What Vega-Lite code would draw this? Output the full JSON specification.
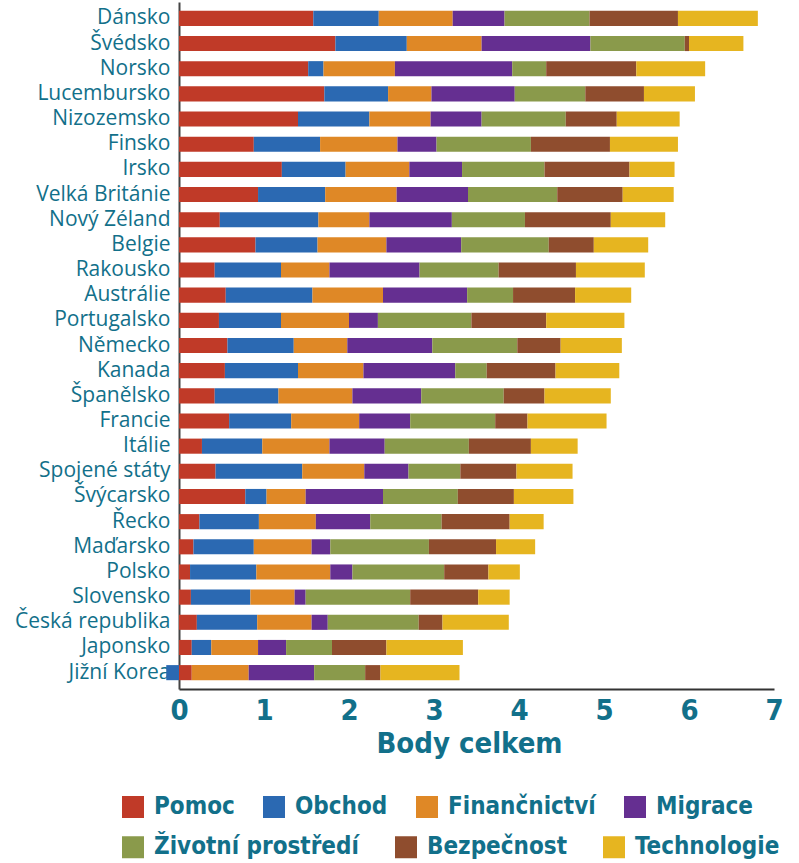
{
  "$schema": "https://vega.github.io/schema/vega-lite/v6.json",
  "autosize": {"type": "none"},
  "padding": {"left": 179, "top": 2, "right": 25, "bottom": 174},
  "width": 595,
  "height": 687,
  "background": "white",
  "data": {
    "values": [
      {"zeme": "Dánsko", "Pomoc": 1.58, "Obchod": 0.77, "Finančnictví": 0.87, "Migrace": 0.61, "Životní prostředí": 1.00, "Bezpečnost": 1.04, "Technologie": 0.94},
      {"zeme": "Švédsko", "Pomoc": 1.84, "Obchod": 0.84, "Finančnictví": 0.88, "Migrace": 1.28, "Životní prostředí": 1.11, "Bezpečnost": 0.05, "Technologie": 0.64},
      {"zeme": "Norsko", "Pomoc": 1.52, "Obchod": 0.18, "Finančnictví": 0.84, "Migrace": 1.38, "Životní prostředí": 0.40, "Bezpečnost": 1.06, "Technologie": 0.81},
      {"zeme": "Lucembursko", "Pomoc": 1.71, "Obchod": 0.75, "Finančnictví": 0.51, "Migrace": 0.98, "Životní prostředí": 0.83, "Bezpečnost": 0.69, "Technologie": 0.60},
      {"zeme": "Nizozemsko", "Pomoc": 1.40, "Obchod": 0.84, "Finančnictví": 0.72, "Migrace": 0.60, "Životní prostředí": 0.99, "Bezpečnost": 0.60, "Technologie": 0.74},
      {"zeme": "Finsko", "Pomoc": 0.88, "Obchod": 0.78, "Finančnictví": 0.91, "Migrace": 0.46, "Životní prostředí": 1.11, "Bezpečnost": 0.93, "Technologie": 0.80},
      {"zeme": "Irsko", "Pomoc": 1.21, "Obchod": 0.75, "Finančnictví": 0.75, "Migrace": 0.62, "Životní prostředí": 0.97, "Bezpečnost": 1.00, "Technologie": 0.53},
      {"zeme": "Velká Británie", "Pomoc": 0.93, "Obchod": 0.79, "Finančnictví": 0.84, "Migrace": 0.84, "Životní prostředí": 1.05, "Bezpečnost": 0.77, "Technologie": 0.60},
      {"zeme": "Nový Zéland", "Pomoc": 0.48, "Obchod": 1.16, "Finančnictví": 0.60, "Migrace": 0.97, "Životní prostředí": 0.86, "Bezpečnost": 1.01, "Technologie": 0.64},
      {"zeme": "Belgie", "Pomoc": 0.90, "Obchod": 0.73, "Finančnictví": 0.81, "Migrace": 0.88, "Životní prostředí": 1.03, "Bezpečnost": 0.53, "Technologie": 0.64},
      {"zeme": "Rakousko", "Pomoc": 0.42, "Obchod": 0.78, "Finančnictví": 0.57, "Migrace": 1.06, "Životní prostředí": 0.93, "Bezpečnost": 0.91, "Technologie": 0.81},
      {"zeme": "Austrálie", "Pomoc": 0.55, "Obchod": 1.02, "Finančnictví": 0.83, "Migrace": 0.99, "Životní prostředí": 0.54, "Bezpečnost": 0.73, "Technologie": 0.66},
      {"zeme": "Portugalsko", "Pomoc": 0.47, "Obchod": 0.73, "Finančnictví": 0.80, "Migrace": 0.34, "Životní prostředí": 1.10, "Bezpečnost": 0.88, "Technologie": 0.92},
      {"zeme": "Německo", "Pomoc": 0.57, "Obchod": 0.78, "Finančnictví": 0.63, "Migrace": 1.00, "Životní prostředí": 1.00, "Bezpečnost": 0.51, "Technologie": 0.72},
      {"zeme": "Kanada", "Pomoc": 0.54, "Obchod": 0.86, "Finančnictví": 0.77, "Migrace": 1.08, "Životní prostředí": 0.37, "Bezpečnost": 0.81, "Technologie": 0.75},
      {"zeme": "Španělsko", "Pomoc": 0.42, "Obchod": 0.75, "Finančnictví": 0.87, "Migrace": 0.81, "Životní prostředí": 0.97, "Bezpečnost": 0.48, "Technologie": 0.78},
      {"zeme": "Francie", "Pomoc": 0.59, "Obchod": 0.73, "Finančnictví": 0.80, "Migrace": 0.60, "Životní prostředí": 1.00, "Bezpečnost": 0.38, "Technologie": 0.93},
      {"zeme": "Itálie", "Pomoc": 0.27, "Obchod": 0.71, "Finančnictví": 0.79, "Migrace": 0.65, "Životní prostředí": 0.99, "Bezpečnost": 0.73, "Technologie": 0.55},
      {"zeme": "Spojené státy", "Pomoc": 0.43, "Obchod": 1.02, "Finančnictví": 0.73, "Migrace": 0.52, "Životní prostředí": 0.61, "Bezpečnost": 0.66, "Technologie": 0.66},
      {"zeme": "Švýcarsko", "Pomoc": 0.78, "Obchod": 0.25, "Finančnictví": 0.46, "Migrace": 0.91, "Životní prostředí": 0.88, "Bezpečnost": 0.66, "Technologie": 0.70},
      {"zeme": "Řecko", "Pomoc": 0.24, "Obchod": 0.70, "Finančnictví": 0.67, "Migrace": 0.64, "Životní prostředí": 0.84, "Bezpečnost": 0.80, "Technologie": 0.40},
      {"zeme": "Maďarsko", "Pomoc": 0.17, "Obchod": 0.71, "Finančnictví": 0.68, "Migrace": 0.22, "Životní prostředí": 1.16, "Bezpečnost": 0.79, "Technologie": 0.46},
      {"zeme": "Polsko", "Pomoc": 0.13, "Obchod": 0.78, "Finančnictví": 0.87, "Migrace": 0.26, "Životní prostředí": 1.08, "Bezpečnost": 0.52, "Technologie": 0.37},
      {"zeme": "Slovensko", "Pomoc": 0.14, "Obchod": 0.70, "Finančnictví": 0.52, "Migrace": 0.13, "Životní prostředí": 1.23, "Bezpečnost": 0.80, "Technologie": 0.37},
      {"zeme": "Česká republika", "Pomoc": 0.21, "Obchod": 0.71, "Finančnictví": 0.64, "Migrace": 0.19, "Životní prostředí": 1.07, "Bezpečnost": 0.28, "Technologie": 0.78},
      {"zeme": "Japonsko", "Pomoc": 0.15, "Obchod": 0.23, "Finančnictví": 0.55, "Migrace": 0.33, "Životní prostředí": 0.54, "Bezpečnost": 0.64, "Technologie": 0.90},
      {"zeme": "Jižní Korea", "Pomoc": 0.15, "Obchod": -0.15, "Finančnictví": 0.67, "Migrace": 0.77, "Životní prostředí": 0.60, "Bezpečnost": 0.18, "Technologie": 0.93}
    ]
  },
  "transform": [
    {"fold": ["Pomoc", "Obchod", "Finančnictví", "Migrace", "Životní prostředí", "Bezpečnost", "Technologie"], "as": ["slozka", "body"]},
    {"calculate": "indexof(['Pomoc','Obchod','Finančnictví','Migrace','Životní prostředí','Bezpečnost','Technologie'], datum.slozka)", "as": "poradi"}
  ],
  "mark": {"type": "bar", "clip": false, "strokeWidth": 0},
  "encoding": {
    "y": {
      "field": "zeme",
      "type": "nominal",
      "sort": null,
      "scale": {"paddingInner": 0.4, "paddingOuter": 0.35},
      "axis": {
        "title": null,
        "ticks": false,
        "domainColor": "#444444",
        "domainWidth": 2,
        "labelFont": "Open Sans",
        "labelFontSize": 21,
        "labelColor": "#12708a",
        "labelPadding": 9
      }
    },
    "x": {
      "field": "body",
      "type": "quantitative",
      "stack": "zero",
      "scale": {"domain": [0, 7], "nice": false, "zero": false},
      "axis": {
        "title": "Body celkem",
        "values": [0, 1, 2, 3, 4, 5, 6, 7],
        "grid": false,
        "ticks": false,
        "domainColor": "#333333",
        "domainWidth": 2,
        "labelFlush": false,
        "labelFont": "DejaVu Sans Condensed",
        "labelFontWeight": "bold",
        "labelFontSize": 29,
        "labelColor": "#12708a",
        "labelPadding": 7,
        "titleFont": "DejaVu Sans Condensed",
        "titleFontWeight": "bold",
        "titleFontSize": 29,
        "titleColor": "#12708a",
        "titlePadding": 4,
        "titleX": 290
      }
    },
    "color": {
      "field": "slozka",
      "type": "nominal",
      "scale": {
        "domain": ["Pomoc", "Obchod", "Finančnictví", "Migrace", "Životní prostředí", "Bezpečnost", "Technologie"],
        "range": ["#c03a28", "#2b69b2", "#df8826", "#652f91", "#8a9a4b", "#8f4d2e", "#e6b520"]
      },
      "legend": {
        "title": null,
        "orient": "none",
        "legendX": -58,
        "legendY": 793,
        "direction": "horizontal",
        "values": ["Pomoc", "Obchod", "Finančnictví", "Migrace"],
        "symbolType": "square",
        "symbolSize": 484,
        "symbolStrokeWidth": 0,
        "symbolOpacity": 1,
        "labelFont": "DejaVu Sans Condensed",
        "labelFontWeight": "bold",
        "labelFontSize": 24,
        "labelColor": "#12708a",
        "labelOffset": 9,
        "labelLimit": 400,
        "columnPadding": 27
      }
    },
    "stroke": {
      "field": "slozka",
      "type": "nominal",
      "scale": {
        "domain": ["Životní prostředí", "Bezpečnost", "Technologie", "Pomoc", "Obchod", "Finančnictví", "Migrace"],
        "range": ["#8a9a4b", "#8f4d2e", "#e6b520", "#c03a28", "#2b69b2", "#df8826", "#652f91"]
      },
      "legend": {
        "title": null,
        "orient": "none",
        "legendX": -58,
        "legendY": 833,
        "direction": "horizontal",
        "values": ["Životní prostředí", "Bezpečnost", "Technologie"],
        "symbolType": "square",
        "symbolSize": 121,
        "symbolStrokeWidth": 11,
        "symbolFillColor": "transparent",
        "symbolOpacity": 1,
        "labelFont": "DejaVu Sans Condensed",
        "labelFontWeight": "bold",
        "labelFontSize": 24,
        "labelColor": "#12708a",
        "labelOffset": 9,
        "labelLimit": 400,
        "columnPadding": 19
      }
    },
    "order": {"field": "poradi", "type": "quantitative", "sort": "ascending"}
  },
  "config": {
    "view": {"stroke": null}
  }
}
